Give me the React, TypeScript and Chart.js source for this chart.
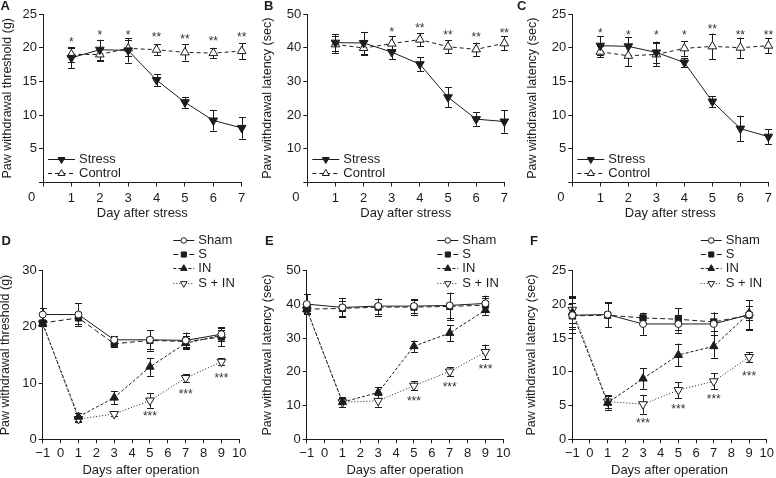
import React, { useEffect, useRef } from 'react';
import { Chart, registerables } from 'chart.js';

Chart.register(...registerables);

const FONT = "'Liberation Sans', Arial, Helvetica, sans-serif";
const INK = '#1c1c1c';

// ---------- Top row (A–C): day after stress ----------
const stressDays = [1, 2, 3, 4, 5, 6, 7];
const topXTicks = [0, 1, 2, 3, 4, 5, 6, 7];
const yTicks25 = [0, 5, 10, 15, 20, 25];
const yTicks50 = [0, 10, 20, 30, 40, 50];

// A: Paw withdrawal threshold (g)
const aStress = [18.5, 19.7, 19.6, 15.2, 11.9, 9.2, 8.1];
const aStressErr = [1.5, 1.5, 1.8, 0.9, 0.8, 1.5, 1.6];
const aControl = [19.0, 19.0, 19.9, 19.7, 19.3, 19.2, 19.5];
const aControlErr = [1.1, 0.9, 1.2, 0.8, 1.2, 0.8, 1.2];
const aStars = ['*', '*', '*', '**', '**', '**', '**'];
const aStarY = [21.2, 22.3, 22.3, 21.9, 21.7, 21.3, 21.9];

// B: Paw withdrawal latency (sec)
const bStress = [41.5, 41.4, 38.7, 35.1, 25.3, 18.8, 18.1];
const bStressErr = [2.5, 3.3, 2.2, 2.1, 3.0, 2.0, 3.3];
const bControl = [41.0, 39.9, 41.2, 42.4, 40.3, 39.5, 41.3];
const bControlErr = [2.5, 2.0, 2.2, 1.9, 1.9, 2.0, 2.1];
const bStars = [null, null, '*', '**', '**', '**', '**'];
const bStarY = [null, null, 45.3, 46.5, 44.6, 43.8, 45.0];

// C: Paw withdrawal latency (sec)
const cStress = [20.3, 20.2, 19.3, 17.8, 12.0, 8.0, 6.8];
const cStressErr = [1.4, 1.4, 1.6, 0.7, 0.8, 1.9, 1.1];
const cControl = [19.4, 18.8, 19.0, 19.9, 20.2, 20.0, 20.3];
const cControlErr = [0.8, 1.5, 1.7, 1.1, 1.9, 1.5, 1.1];
const cStars = ['*', '*', '*', '*', '**', '**', '**'];
const cStarY = [22.5, 22.3, 22.3, 22.3, 23.1, 22.3, 22.3];

// ---------- Bottom row (D–F): days after operation ----------
const opDays = [-1, 1, 3, 5, 7, 9];
const botXTicks = [-1, 0, 1, 2, 3, 4, 5, 6, 7, 8, 9, 10];
const yTicks30 = [0, 10, 20, 30];

// D: Paw withdrawal threshold (g)
const dSham = [22.2, 22.2, 17.7, 17.7, 17.6, 18.7];
const dShamErr = [1.1, 2.0, 0.7, 1.7, 1.4, 1.2];
const dS = [20.7, 21.6, 17.0, 17.6, 17.4, 18.2];
const dSErr = [0.5, 1.1, 0.5, 1.8, 1.0, 1.6];
const dIN = [20.6, 4.0, 7.4, 12.9, 17.1, 18.5];
const dINErr = [0.5, 0.7, 1.2, 1.6, 1.0, 1.0];
const dSIN = [20.6, 3.6, 4.5, 6.9, 10.9, 13.8];
const dSINErr = [0.5, 0.6, 0.3, 1.3, 0.7, 0.6];
const dStars = [null, null, null, '***', '***', '***'];
const dStarY = [null, null, null, 4.5, 8.5, 11.3];

// E: Paw withdrawal latency (sec)
const eSham = [40.1, 39.1, 39.5, 39.5, 39.7, 40.3];
const eShamErr = [3.0, 2.7, 2.2, 2.0, 3.8, 2.3];
const eS = [38.6, 38.8, 39.2, 39.2, 39.4, 39.8];
const eSErr = [1.2, 2.3, 2.5, 2.2, 4.0, 2.0];
const eIN = [38.6, 11.0, 13.9, 27.6, 31.5, 38.3];
const eINErr = [1.0, 1.5, 1.6, 1.7, 2.4, 1.3];
const eSIN = [38.4, 11.0, 11.4, 15.9, 20.1, 25.9];
const eSINErr = [1.0, 1.3, 1.7, 1.4, 1.3, 2.2];
const eStars = [null, null, null, '***', '***', '***'];
const eStarY = [null, null, null, 12.0, 16.3, 21.5];

// F: Paw withdrawal latency (sec)
const fSham = [18.4, 18.5, 17.1, 17.1, 17.1, 18.5];
const fShamErr = [2.7, 1.8, 1.6, 1.3, 1.7, 2.1];
const fS = [18.3, 18.4, 18.0, 17.8, 17.4, 18.4];
const fSErr = [1.9, 1.8, 0.8, 1.6, 1.4, 2.2];
const fIN = [18.8, 5.4, 9.0, 12.5, 13.8, 18.7];
const fINErr = [2.2, 1.0, 1.5, 1.7, 1.7, 1.0];
const fSIN = [19.2, 5.6, 5.2, 7.3, 8.6, 12.2];
const fSINErr = [2.0, 0.9, 1.4, 1.2, 1.2, 0.7];
const fStars = [null, null, '***', '***', '***', '***'];
const fStarY = [null, null, 2.8, 4.9, 6.3, 9.8];

// ---------- styles ----------
type Style = { shape: 'triangle' | 'circle' | 'rect'; rot: number; filled: boolean; dash: number[]; r: number; lr: number };
const STRESS: Style = { shape: 'triangle', rot: 180, filled: true, dash: [], r: 5, lr: 4 };
const CONTROL: Style = { shape: 'triangle', rot: 0, filled: false, dash: [4, 3], r: 5, lr: 4 };
const SHAM: Style = { shape: 'circle', rot: 0, filled: false, dash: [], r: 3.5, lr: 2.8 };
const SS: Style = { shape: 'rect', rot: 0, filled: true, dash: [5, 3], r: 4.4, lr: 3.6 };
const IN: Style = { shape: 'triangle', rot: 0, filled: true, dash: [3, 2], r: 4.8, lr: 3.8 };
const SIN: Style = { shape: 'triangle', rot: 180, filled: false, dash: [1, 2], r: 5, lr: 3.8 };

type Series = { label: string; y: number[]; err: number[]; st: Style };
type Cfg = {
  letter: string; left: number; top: number; w: number; h: number;
  yW: number; padTop: number; padRight: number; xH: number;
  xMin: number; xMax: number; xTicks: number[]; yMin: number; yMax: number; yTicks: number[];
  hideZero: boolean; xTitle: string; yTitle: string; yTitlePad: number; xTitlePad: number; xTickPad: number;
  xs: number[]; series: Series[]; stars: (string | null)[]; starY: (number | null)[];
  legend: 'bl' | 'tr'; letterX: number; letterY: number;
};

function drawMarker(ctx: CanvasRenderingContext2D, st: Style, x: number, y: number, r: number) {
  ctx.save();
  ctx.setLineDash([]);
  ctx.lineWidth = 1;
  ctx.strokeStyle = INK;
  ctx.fillStyle = st.filled ? INK : '#ffffff';
  ctx.beginPath();
  if (st.shape === 'circle') {
    ctx.arc(x, y, r, 0, Math.PI * 2);
  } else if (st.shape === 'rect') {
    const s = r * Math.SQRT1_2;
    ctx.rect(x - s, y - s, 2 * s, 2 * s);
  } else {
    let rad = (st.rot * Math.PI) / 180;
    for (let k = 0; k < 3; k++) {
      const px = x + Math.sin(rad) * r;
      const py = y - Math.cos(rad) * r;
      if (k === 0) ctx.moveTo(px, py); else ctx.lineTo(px, py);
      rad += (2 * Math.PI) / 3;
    }
    ctx.closePath();
  }
  ctx.fill();
  ctx.stroke();
  ctx.restore();
}

function decor(cfg: Cfg) {
  return {
    id: 'decor',
    beforeDatasetsDraw(chart: any) {
      const { ctx, scales } = chart;
      const xs = scales.x, ys = scales.y;
      ctx.save();
      ctx.strokeStyle = INK;
      ctx.lineWidth = 1;
      ctx.setLineDash([]);
      cfg.series.forEach((s) => {
        s.y.forEach((v, i) => {
          const x = Math.round(xs.getPixelForValue(cfg.xs[i])) + 0.5;
          const y1 = ys.getPixelForValue(v + s.err[i]);
          const y2 = ys.getPixelForValue(v - s.err[i]);
          ctx.beginPath();
          ctx.moveTo(x, y1); ctx.lineTo(x, y2);
          ctx.moveTo(x - 3.5, Math.round(y1) + 0.5); ctx.lineTo(x + 3.5, Math.round(y1) + 0.5);
          ctx.moveTo(x - 3.5, Math.round(y2) + 0.5); ctx.lineTo(x + 3.5, Math.round(y2) + 0.5);
          ctx.stroke();
        });
      });
      ctx.restore();
    },
    afterDatasetsDraw(chart: any) {
      const { ctx, scales, chartArea } = chart;
      const xs = scales.x, ys = scales.y;
      ctx.save();
      // significance marks
      ctx.fillStyle = '#333';
      ctx.font = `12px ${FONT}`;
      ctx.textAlign = 'center';
      ctx.textBaseline = 'middle';
      cfg.stars.forEach((t, i) => {
        const yv = cfg.starY[i];
        if (!t || yv == null) return;
        ctx.fillText(t, xs.getPixelForValue(cfg.xs[i]), ys.getPixelForValue(yv) + 3);
      });
      // legend
      ctx.font = `13px ${FONT}`;
      ctx.fillStyle = INK;
      ctx.textAlign = 'left';
      cfg.series.forEach((s, i) => {
        let x0: number, len: number, tx: number, y: number;
        if (cfg.legend === 'bl') {
          x0 = chartArea.left + 5; len = 27; tx = chartArea.left + 36;
          y = chartArea.bottom - 23.5 + i * 14;
        } else {
          x0 = chartArea.right - 66; len = 21; tx = chartArea.right - 41;
          y = chartArea.top - 30.7 + i * 14.2;
        }
        ctx.save();
        ctx.strokeStyle = INK;
        ctx.lineWidth = 1;
        ctx.setLineDash(s.st.dash);
        ctx.beginPath();
        ctx.moveTo(x0, Math.round(y) + 0.5);
        ctx.lineTo(x0 + len, Math.round(y) + 0.5);
        ctx.stroke();
        ctx.restore();
        drawMarker(ctx, s.st, x0 + len / 2, Math.round(y) + 0.5, s.st.lr);
        ctx.fillStyle = INK;
        ctx.textBaseline = 'middle';
        ctx.fillText(s.label, tx, y + 0.5);
      });
      // panel letter
      ctx.font = `bold 13px ${FONT}`;
      ctx.textAlign = 'left';
      ctx.textBaseline = 'middle';
      ctx.fillText(cfg.letter, cfg.letterX, cfg.letterY);
      // shared origin label
      if (cfg.hideZero) {
        ctx.font = `13px ${FONT}`;
        ctx.textAlign = 'center';
        ctx.fillText('0', chartArea.left - 11.5, chartArea.bottom + 15);
      }
      ctx.restore();
    },
  };
}

function Panel({ cfg }: { cfg: Cfg }) {
  const ref = useRef<HTMLCanvasElement | null>(null);
  useEffect(() => {
    if (!ref.current) return;
    const tickFont = { size: 13, family: FONT };
    const chart = new Chart(ref.current, {
      type: 'line',
      data: {
        datasets: cfg.series.map((s) => ({
          label: s.label,
          data: cfg.xs.map((x, i) => ({ x, y: s.y[i] })),
          borderColor: INK,
          borderWidth: 1,
          borderDash: s.st.dash,
          pointStyle: s.st.shape,
          pointRotation: s.st.rot,
          pointRadius: s.st.r,
          pointBackgroundColor: s.st.filled ? INK : '#ffffff',
          pointBorderColor: INK,
          pointBorderWidth: 1,
          tension: 0,
          fill: false,
          clip: false as any,
        })),
      },
      options: {
        animation: false,
        responsive: false,
        devicePixelRatio: 1,
        events: [],
        layout: { padding: { top: cfg.padTop, right: cfg.padRight, left: 0, bottom: 0 } },
        plugins: { legend: { display: false }, tooltip: { enabled: false } },
        scales: {
          x: {
            type: 'linear',
            min: cfg.xMin,
            max: cfg.xMax,
            afterBuildTicks: (s: any) => { s.ticks = cfg.xTicks.map((value) => ({ value })); },
            afterFit: (s: any) => { s.height = cfg.xH; },
            ticks: {
              color: INK, font: tickFont, padding: cfg.xTickPad, maxRotation: 0, autoSkip: false,
              callback: (v: any) => {
                const n = Number(v);
                if (cfg.hideZero && n === 0) return '';
                return n < 0 ? '\u2212' + Math.abs(n) : String(n);
              },
            },
            grid: { drawOnChartArea: false, drawTicks: true, tickLength: 4, color: INK, lineWidth: 1 },
            border: { display: true, color: INK, width: 1 },
            title: { display: true, text: cfg.xTitle, color: INK, font: { size: 13, family: FONT }, padding: { top: 0, bottom: cfg.xTitlePad } },
          },
          y: {
            type: 'linear',
            min: cfg.yMin,
            max: cfg.yMax,
            afterBuildTicks: (s: any) => { s.ticks = cfg.yTicks.map((value) => ({ value })); },
            afterFit: (s: any) => { s.width = cfg.yW; },
            ticks: {
              color: INK, font: tickFont, padding: 2, autoSkip: false,
              callback: (v: any) => (cfg.hideZero && Number(v) === 0 ? '' : String(v)),
            },
            grid: { drawOnChartArea: false, drawTicks: true, tickLength: 4, color: INK, lineWidth: 1 },
            border: { display: true, color: INK, width: 1 },
            title: { display: true, text: cfg.yTitle, color: INK, font: { size: 12.5, family: FONT }, padding: { top: cfg.yTitlePad, bottom: 0 } },
          },
        },
      } as any,
      plugins: [decor(cfg)],
    });
    return () => chart.destroy();
  }, [cfg]);
  return (
    <canvas
      ref={ref}
      width={cfg.w}
      height={cfg.h}
      style={{ position: 'absolute', left: cfg.left, top: cfg.top, width: cfg.w, height: cfg.h }}
    />
  );
}

const topCommon = {
  top: 0, h: 224, padTop: 14, xH: 41.5, xMin: 0, xMax: 7, xTicks: topXTicks, yMin: 0,
  hideZero: true, xTitle: 'Day after stress', xTitlePad: 3, xTickPad: 4, xs: stressDays, legend: 'bl' as const, letterY: 6,
};
const botCommon = {
  top: 230, h: 248, padTop: 40.7, xH: 38.7, xMin: -1, xMax: 10, xTicks: botXTicks, yMin: 0,
  hideZero: false, xTitle: 'Days after operation', xTitlePad: 0, xTickPad: 2, xs: opDays, legend: 'tr' as const, letterY: 11,
};

const mk4 = (sham: number[], shamE: number[], s: number[], sE: number[], inn: number[], inE: number[], sin: number[], sinE: number[]): Series[] => [
  { label: 'Sham', y: sham, err: shamE, st: SHAM },
  { label: 'S', y: s, err: sE, st: SS },
  { label: 'IN', y: inn, err: inE, st: IN },
  { label: 'S + IN', y: sin, err: sinE, st: SIN },
];

const panels: Cfg[] = [
  {
    ...topCommon, letter: 'A', left: 0, w: 258, yW: 43, padRight: 16.3, yMax: 25, yTicks: yTicks25,
    yTitle: 'Paw withdrawal threshold (g)', yTitlePad: 0, letterX: 0.5,
    series: [
      { label: 'Stress', y: aStress, err: aStressErr, st: STRESS },
      { label: 'Control', y: aControl, err: aControlErr, st: CONTROL },
    ],
    stars: aStars, starY: aStarY,
  },
  {
    ...topCommon, letter: 'B', left: 258, w: 258, yW: 49.3, padRight: 11.7, yMax: 50, yTicks: yTicks50,
    yTitle: 'Paw withdrawal latency (sec)', yTitlePad: 2.5, letterX: 6,
    series: [
      { label: 'Stress', y: bStress, err: bStressErr, st: STRESS },
      { label: 'Control', y: bControl, err: bControlErr, st: CONTROL },
    ],
    stars: bStars, starY: bStarY,
  },
  {
    ...topCommon, letter: 'C', left: 516, w: 260, yW: 56.3, padRight: 6, yMax: 25, yTicks: yTicks25,
    yTitle: 'Paw withdrawal latency (sec)', yTitlePad: 9.5, letterX: 1,
    series: [
      { label: 'Stress', y: cStress, err: cStressErr, st: STRESS },
      { label: 'Control', y: cControl, err: cControlErr, st: CONTROL },
    ],
    stars: cStars, starY: cStarY,
  },
  {
    ...botCommon, letter: 'D', left: 0, w: 258, yW: 42.7, padRight: 18.7, yMax: 30, yTicks: yTicks30,
    yTitle: 'Paw withdrawal threshold (g)', yTitlePad: -2, letterX: 1.5,
    series: mk4(dSham, dShamErr, dS, dSErr, dIN, dINErr, dSIN, dSINErr),
    stars: dStars, starY: dStarY,
  },
  {
    ...botCommon, letter: 'E', left: 258, w: 258, yW: 48.7, padRight: 12.7, yMax: 50, yTicks: yTicks50,
    yTitle: 'Paw withdrawal latency (sec)', yTitlePad: 2.5, letterX: 7,
    series: mk4(eSham, eShamErr, eS, eSErr, eIN, eINErr, eSIN, eSINErr),
    stars: eStars, starY: eStarY,
  },
  {
    ...botCommon, letter: 'F', left: 516, w: 260, yW: 56.3, padRight: 7.7, yMax: 25, yTicks: yTicks25,
    yTitle: 'Paw withdrawal latency (sec)', yTitlePad: 8.5, letterX: 14,
    series: mk4(fSham, fShamErr, fS, fSErr, fIN, fINErr, fSIN, fSINErr),
    stars: fStars, starY: fStarY,
  },
];

Chart.defaults.font.family = FONT;

export default function App() {
  return (
    <div style={{ position: 'absolute', left: 0, top: 0, width: 776, height: 478, background: '#ffffff', overflow: 'hidden' }}>
      {panels.map((p) => (
        <Panel key={p.letter} cfg={p} />
      ))}
    </div>
  );
}
